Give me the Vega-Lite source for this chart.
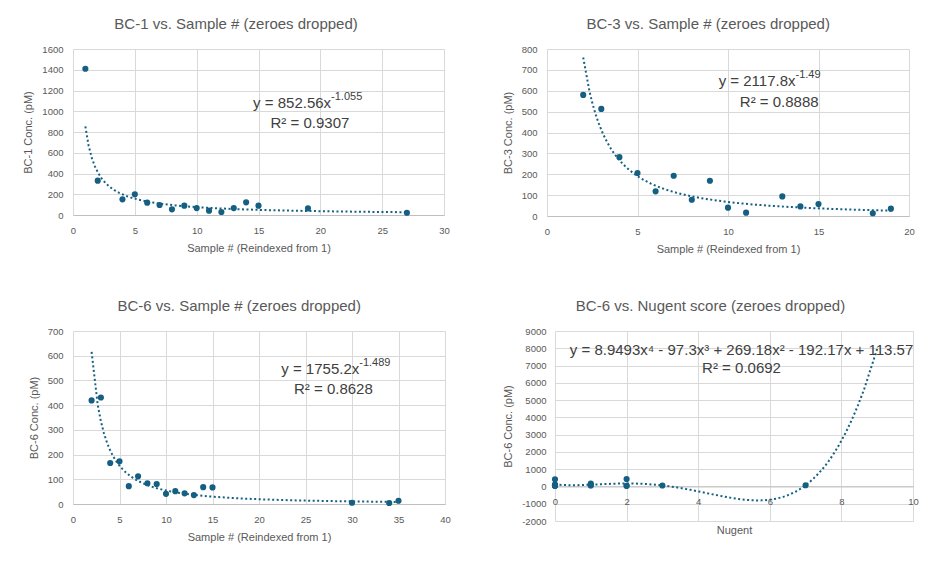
{
  "$schema": "https://vega.github.io/schema/vega-lite/v6.json",
  "background": "white",
  "padding": {"left": 22, "top": 17, "right": 0, "bottom": 0},
  "config": {
    "font": "Liberation Sans",
    "view": {"stroke": null},
    "title": {"fontSize": 15, "fontWeight": "normal", "color": "#595959", "anchor": "middle", "frame": "bounds", "offset": 12},
    "axis": {"labelFontSize": 9.5, "labelColor": "#595959", "titleFontSize": 11, "titleFontWeight": "normal", "titleColor": "#595959", "ticks": false, "domain": false, "gridColor": "#d9d9d9", "gridWidth": 1, "labelFlush": false, "labelOverlap": false, "labelExpr": "'' + datum.value"},
    "axisX": {"domain": true, "domainColor": "#bfbfbf", "labelPadding": 10, "titlePadding": 8},
    "axisY": {"labelPadding": 10, "titlePadding": 8}
  },
  "datasets": {
    "bc1": [
      {"sample": 1, "conc": 1410}, {"sample": 2, "conc": 331}, {"sample": 4, "conc": 151}, {"sample": 5, "conc": 199},
      {"sample": 6, "conc": 119}, {"sample": 7, "conc": 96}, {"sample": 8, "conc": 55}, {"sample": 9, "conc": 90},
      {"sample": 10, "conc": 67}, {"sample": 11, "conc": 42}, {"sample": 12, "conc": 29}, {"sample": 13, "conc": 67},
      {"sample": 14, "conc": 122}, {"sample": 15, "conc": 90}, {"sample": 19, "conc": 64}, {"sample": 27, "conc": 22}
    ],
    "bc3": [
      {"sample": 2, "conc": 580}, {"sample": 3, "conc": 513}, {"sample": 4, "conc": 282}, {"sample": 5, "conc": 206},
      {"sample": 6, "conc": 118}, {"sample": 7, "conc": 193}, {"sample": 8, "conc": 78}, {"sample": 9, "conc": 169},
      {"sample": 10, "conc": 40}, {"sample": 11, "conc": 16}, {"sample": 13, "conc": 94}, {"sample": 14, "conc": 46},
      {"sample": 15, "conc": 57}, {"sample": 18, "conc": 13}, {"sample": 19, "conc": 35}
    ],
    "bc6": [
      {"sample": 2, "conc": 419}, {"sample": 3, "conc": 431}, {"sample": 4, "conc": 166}, {"sample": 5, "conc": 173},
      {"sample": 6, "conc": 72}, {"sample": 7, "conc": 112}, {"sample": 8, "conc": 84}, {"sample": 9, "conc": 81},
      {"sample": 10, "conc": 41}, {"sample": 11, "conc": 52}, {"sample": 12, "conc": 43}, {"sample": 13, "conc": 36},
      {"sample": 14, "conc": 68}, {"sample": 15, "conc": 67}, {"sample": 30, "conc": 5}, {"sample": 34, "conc": 4},
      {"sample": 35, "conc": 13}
    ],
    "nugent": [
      {"nugent": 0, "conc": 419}, {"nugent": 0, "conc": 112}, {"nugent": 0, "conc": 69}, {"nugent": 0, "conc": 68},
      {"nugent": 0, "conc": 51}, {"nugent": 0, "conc": 35}, {"nugent": 0, "conc": 41},
      {"nugent": 1, "conc": 166}, {"nugent": 1, "conc": 81}, {"nugent": 1, "conc": 59.7},
      {"nugent": 2, "conc": 431}, {"nugent": 2, "conc": 43}, {"nugent": 2, "conc": 38.2},
      {"nugent": 3, "conc": 57.5},
      {"nugent": 7, "conc": 71.6}
    ],
    "notes": [
      {"panel": "bc1", "eq": "y = 852.56x", "exp": "-1.055", "r2": "R² = 0.9307"},
      {"panel": "bc3", "eq": "y = 2117.8x", "exp": "-1.49", "r2": "R² = 0.8888"},
      {"panel": "bc6", "eq": "y = 1755.2x", "exp": "-1.489", "r2": "R² = 0.8628"},
      {"panel": "nugent", "eq": "y = 8.9493x⁴ - 97.3x³ + 269.18x² - 192.17x + 113.57", "exp": "", "r2": "R² = 0.0692"}
    ]
  },
  "columns": 2,
  "align": "none",
  "spacing": {"row": 44, "column": 51},
  "concat": [
    {
      "width": 371, "height": 166,
      "title": "BC-1 vs. Sample # (zeroes dropped)",
      "layer": [
        {"data": {"name": "bc1"}, "transform": [{"regression": "conc", "on": "sample", "method": "pow"}], "mark": {"type": "line", "color": "#156082", "strokeWidth": 2, "strokeDash": [2, 2.5]},
         "encoding": {
            "x": {"field": "sample", "type": "quantitative", "scale": {"domain": [0, 30], "nice": false}, "axis": {"title": "Sample # (Reindexed from 1)", "values": [0, 5, 10, 15, 20, 25, 30]}},
            "y": {"field": "conc", "type": "quantitative", "scale": {"domain": [0, 1600], "nice": false}, "axis": {"title": "BC-1 Conc. (pM)", "values": [0, 200, 400, 600, 800, 1000, 1200, 1400, 1600]}}}},
        {"data": {"name": "bc1"}, "mark": {"type": "point", "filled": true, "size": 38, "opacity": 1, "color": "#156082"},
         "encoding": {
            "x": {"field": "sample", "type": "quantitative", "scale": {"domain": [0, 30], "nice": false}, "axis": {"title": "Sample # (Reindexed from 1)", "values": [0, 5, 10, 15, 20, 25, 30]}},
            "y": {"field": "conc", "type": "quantitative", "scale": {"domain": [0, 1600], "nice": false}, "axis": {"title": "BC-1 Conc. (pM)", "values": [0, 200, 400, 600, 800, 1000, 1200, 1400, 1600]}}}},
        {"data": {"name": "notes"}, "transform": [{"filter": "datum.panel === 'bc1'"}], "mark": {"type": "text", "align": "right", "baseline": "middle", "fontSize": 15, "color": "#404040"},
         "encoding": {
            "x": {"datum": 20.87, "type": "quantitative", "scale": {"domain": [0, 30], "nice": false}, "axis": {"title": "Sample # (Reindexed from 1)", "values": [0, 5, 10, 15, 20, 25, 30]}},
            "y": {"datum": 1082, "type": "quantitative", "scale": {"domain": [0, 1600], "nice": false}, "axis": {"title": "BC-1 Conc. (pM)", "values": [0, 200, 400, 600, 800, 1000, 1200, 1400, 1600]}},
            "text": {"field": "eq", "type": "nominal"}}},
        {"data": {"name": "notes"}, "transform": [{"filter": "datum.panel === 'bc1'"}], "mark": {"type": "text", "align": "left", "baseline": "middle", "fontSize": 11, "dy": -6, "color": "#404040"},
         "encoding": {
            "x": {"datum": 20.87, "type": "quantitative", "scale": {"domain": [0, 30], "nice": false}, "axis": {"title": "Sample # (Reindexed from 1)", "values": [0, 5, 10, 15, 20, 25, 30]}},
            "y": {"datum": 1082, "type": "quantitative", "scale": {"domain": [0, 1600], "nice": false}, "axis": {"title": "BC-1 Conc. (pM)", "values": [0, 200, 400, 600, 800, 1000, 1200, 1400, 1600]}},
            "text": {"field": "exp", "type": "nominal"}}},
        {"data": {"name": "notes"}, "transform": [{"filter": "datum.panel === 'bc1'"}], "mark": {"type": "text", "align": "center", "baseline": "middle", "fontSize": 15, "color": "#404040"},
         "encoding": {
            "x": {"datum": 19.16, "type": "quantitative", "scale": {"domain": [0, 30], "nice": false}, "axis": {"title": "Sample # (Reindexed from 1)", "values": [0, 5, 10, 15, 20, 25, 30]}},
            "y": {"datum": 890, "type": "quantitative", "scale": {"domain": [0, 1600], "nice": false}, "axis": {"title": "BC-1 Conc. (pM)", "values": [0, 200, 400, 600, 800, 1000, 1200, 1400, 1600]}},
            "text": {"field": "r2", "type": "nominal"}}}
      ]
    },
    {
      "width": 362, "height": 167,
      "title": "BC-3 vs. Sample # (zeroes dropped)",
      "layer": [
        {"data": {"name": "bc3"}, "transform": [{"regression": "conc", "on": "sample", "method": "pow"}], "mark": {"type": "line", "color": "#156082", "strokeWidth": 2, "strokeDash": [2, 2.5]},
         "encoding": {
            "x": {"field": "sample", "type": "quantitative", "scale": {"domain": [0, 20], "nice": false}, "axis": {"title": "Sample # (Reindexed from 1)", "values": [0, 5, 10, 15, 20]}},
            "y": {"field": "conc", "type": "quantitative", "scale": {"domain": [0, 800], "nice": false}, "axis": {"title": "BC-3 Conc. (pM)", "values": [0, 100, 200, 300, 400, 500, 600, 700, 800]}}}},
        {"data": {"name": "bc3"}, "mark": {"type": "point", "filled": true, "size": 38, "opacity": 1, "color": "#156082"},
         "encoding": {
            "x": {"field": "sample", "type": "quantitative", "scale": {"domain": [0, 20], "nice": false}, "axis": {"title": "Sample # (Reindexed from 1)", "values": [0, 5, 10, 15, 20]}},
            "y": {"field": "conc", "type": "quantitative", "scale": {"domain": [0, 800], "nice": false}, "axis": {"title": "BC-3 Conc. (pM)", "values": [0, 100, 200, 300, 400, 500, 600, 700, 800]}}}},
        {"data": {"name": "notes"}, "transform": [{"filter": "datum.panel === 'bc3'"}], "mark": {"type": "text", "align": "right", "baseline": "middle", "fontSize": 15, "color": "#404040"},
         "encoding": {
            "x": {"datum": 13.73, "type": "quantitative", "scale": {"domain": [0, 20], "nice": false}, "axis": {"title": "Sample # (Reindexed from 1)", "values": [0, 5, 10, 15, 20]}},
            "y": {"datum": 648, "type": "quantitative", "scale": {"domain": [0, 800], "nice": false}, "axis": {"title": "BC-3 Conc. (pM)", "values": [0, 100, 200, 300, 400, 500, 600, 700, 800]}},
            "text": {"field": "eq", "type": "nominal"}}},
        {"data": {"name": "notes"}, "transform": [{"filter": "datum.panel === 'bc3'"}], "mark": {"type": "text", "align": "left", "baseline": "middle", "fontSize": 11, "dy": -6, "color": "#404040"},
         "encoding": {
            "x": {"datum": 13.73, "type": "quantitative", "scale": {"domain": [0, 20], "nice": false}, "axis": {"title": "Sample # (Reindexed from 1)", "values": [0, 5, 10, 15, 20]}},
            "y": {"datum": 648, "type": "quantitative", "scale": {"domain": [0, 800], "nice": false}, "axis": {"title": "BC-3 Conc. (pM)", "values": [0, 100, 200, 300, 400, 500, 600, 700, 800]}},
            "text": {"field": "exp", "type": "nominal"}}},
        {"data": {"name": "notes"}, "transform": [{"filter": "datum.panel === 'bc3'"}], "mark": {"type": "text", "align": "center", "baseline": "middle", "fontSize": 15, "color": "#404040"},
         "encoding": {
            "x": {"datum": 12.83, "type": "quantitative", "scale": {"domain": [0, 20], "nice": false}, "axis": {"title": "Sample # (Reindexed from 1)", "values": [0, 5, 10, 15, 20]}},
            "y": {"datum": 548, "type": "quantitative", "scale": {"domain": [0, 800], "nice": false}, "axis": {"title": "BC-3 Conc. (pM)", "values": [0, 100, 200, 300, 400, 500, 600, 700, 800]}},
            "text": {"field": "r2", "type": "nominal"}}}
      ]
    },
    {
      "width": 372, "height": 173,
      "title": "BC-6 vs. Sample # (zeroes dropped)",
      "layer": [
        {"data": {"name": "bc6"}, "transform": [{"regression": "conc", "on": "sample", "method": "pow"}], "mark": {"type": "line", "color": "#156082", "strokeWidth": 2, "strokeDash": [2, 2.5]},
         "encoding": {
            "x": {"field": "sample", "type": "quantitative", "scale": {"domain": [0, 40], "nice": false}, "axis": {"title": "Sample # (Reindexed from 1)", "values": [0, 5, 10, 15, 20, 25, 30, 35, 40]}},
            "y": {"field": "conc", "type": "quantitative", "scale": {"domain": [0, 700], "nice": false}, "axis": {"title": "BC-6 Conc. (pM)", "values": [0, 100, 200, 300, 400, 500, 600, 700]}}}},
        {"data": {"name": "bc6"}, "mark": {"type": "point", "filled": true, "size": 38, "opacity": 1, "color": "#156082"},
         "encoding": {
            "x": {"field": "sample", "type": "quantitative", "scale": {"domain": [0, 40], "nice": false}, "axis": {"title": "Sample # (Reindexed from 1)", "values": [0, 5, 10, 15, 20, 25, 30, 35, 40]}},
            "y": {"field": "conc", "type": "quantitative", "scale": {"domain": [0, 700], "nice": false}, "axis": {"title": "BC-6 Conc. (pM)", "values": [0, 100, 200, 300, 400, 500, 600, 700]}}}},
        {"data": {"name": "notes"}, "transform": [{"filter": "datum.panel === 'bc6'"}], "mark": {"type": "text", "align": "right", "baseline": "middle", "fontSize": 15, "color": "#404040"},
         "encoding": {
            "x": {"datum": 30.78, "type": "quantitative", "scale": {"domain": [0, 40], "nice": false}, "axis": {"title": "Sample # (Reindexed from 1)", "values": [0, 5, 10, 15, 20, 25, 30, 35, 40]}},
            "y": {"datum": 545, "type": "quantitative", "scale": {"domain": [0, 700], "nice": false}, "axis": {"title": "BC-6 Conc. (pM)", "values": [0, 100, 200, 300, 400, 500, 600, 700]}},
            "text": {"field": "eq", "type": "nominal"}}},
        {"data": {"name": "notes"}, "transform": [{"filter": "datum.panel === 'bc6'"}], "mark": {"type": "text", "align": "left", "baseline": "middle", "fontSize": 11, "dy": -6, "color": "#404040"},
         "encoding": {
            "x": {"datum": 30.78, "type": "quantitative", "scale": {"domain": [0, 40], "nice": false}, "axis": {"title": "Sample # (Reindexed from 1)", "values": [0, 5, 10, 15, 20, 25, 30, 35, 40]}},
            "y": {"datum": 545, "type": "quantitative", "scale": {"domain": [0, 700], "nice": false}, "axis": {"title": "BC-6 Conc. (pM)", "values": [0, 100, 200, 300, 400, 500, 600, 700]}},
            "text": {"field": "exp", "type": "nominal"}}},
        {"data": {"name": "notes"}, "transform": [{"filter": "datum.panel === 'bc6'"}], "mark": {"type": "text", "align": "center", "baseline": "middle", "fontSize": 15, "color": "#404040"},
         "encoding": {
            "x": {"datum": 28.0, "type": "quantitative", "scale": {"domain": [0, 40], "nice": false}, "axis": {"title": "Sample # (Reindexed from 1)", "values": [0, 5, 10, 15, 20, 25, 30, 35, 40]}},
            "y": {"datum": 464, "type": "quantitative", "scale": {"domain": [0, 700], "nice": false}, "axis": {"title": "BC-6 Conc. (pM)", "values": [0, 100, 200, 300, 400, 500, 600, 700]}},
            "text": {"field": "r2", "type": "nominal"}}}
      ]
    },
    {
      "width": 358, "height": 190,
      "title": "BC-6 vs. Nugent score (zeroes dropped)",
      "layer": [
        {"data": {"name": "nugent"}, "transform": [{"regression": "conc", "on": "nugent", "method": "poly", "order": 4, "extent": [0, 9]}], "mark": {"type": "line", "color": "#156082", "strokeWidth": 2, "strokeDash": [2, 2.5]},
         "encoding": {
            "x": {"field": "nugent", "type": "quantitative", "scale": {"domain": [0, 10], "nice": false}, "axis": {"title": "Nugent", "values": [0, 2, 4, 6, 8, 10], "offset": -34.55, "titleY": 44.5, "titleBaseline": "middle"}},
            "y": {"field": "conc", "type": "quantitative", "scale": {"domain": [-2000, 9000], "nice": false}, "axis": {"title": "BC-6 Conc. (pM)", "values": [-2000, -1000, 0, 1000, 2000, 3000, 4000, 5000, 6000, 7000, 8000, 9000], "labelPadding": 9}}}},
        {"data": {"name": "nugent"}, "mark": {"type": "point", "filled": true, "size": 38, "opacity": 1, "color": "#156082"},
         "encoding": {
            "x": {"field": "nugent", "type": "quantitative", "scale": {"domain": [0, 10], "nice": false}, "axis": {"title": "Nugent", "values": [0, 2, 4, 6, 8, 10], "offset": -34.55, "titleY": 44.5, "titleBaseline": "middle"}},
            "y": {"field": "conc", "type": "quantitative", "scale": {"domain": [-2000, 9000], "nice": false}, "axis": {"title": "BC-6 Conc. (pM)", "values": [-2000, -1000, 0, 1000, 2000, 3000, 4000, 5000, 6000, 7000, 8000, 9000], "labelPadding": 9}}}},
        {"data": {"name": "notes"}, "transform": [{"filter": "datum.panel === 'nugent'"}], "mark": {"type": "text", "align": "center", "baseline": "middle", "fontSize": 15, "color": "#404040"},
         "encoding": {
            "x": {"datum": 5.21, "type": "quantitative", "scale": {"domain": [0, 10], "nice": false}, "axis": {"title": "Nugent", "values": [0, 2, 4, 6, 8, 10], "offset": -34.55, "titleY": 44.5, "titleBaseline": "middle"}},
            "y": {"datum": 7917, "type": "quantitative", "scale": {"domain": [-2000, 9000], "nice": false}, "axis": {"title": "BC-6 Conc. (pM)", "values": [-2000, -1000, 0, 1000, 2000, 3000, 4000, 5000, 6000, 7000, 8000, 9000], "labelPadding": 9}},
            "text": {"field": "eq", "type": "nominal"}}},
        {"data": {"name": "notes"}, "transform": [{"filter": "datum.panel === 'nugent'"}], "mark": {"type": "text", "align": "center", "baseline": "middle", "fontSize": 15, "color": "#404040"},
         "encoding": {
            "x": {"datum": 5.21, "type": "quantitative", "scale": {"domain": [0, 10], "nice": false}, "axis": {"title": "Nugent", "values": [0, 2, 4, 6, 8, 10], "offset": -34.55, "titleY": 44.5, "titleBaseline": "middle"}},
            "y": {"datum": 6858, "type": "quantitative", "scale": {"domain": [-2000, 9000], "nice": false}, "axis": {"title": "BC-6 Conc. (pM)", "values": [-2000, -1000, 0, 1000, 2000, 3000, 4000, 5000, 6000, 7000, 8000, 9000], "labelPadding": 9}},
            "text": {"field": "r2", "type": "nominal"}}}
      ]
    }
  ]
}
